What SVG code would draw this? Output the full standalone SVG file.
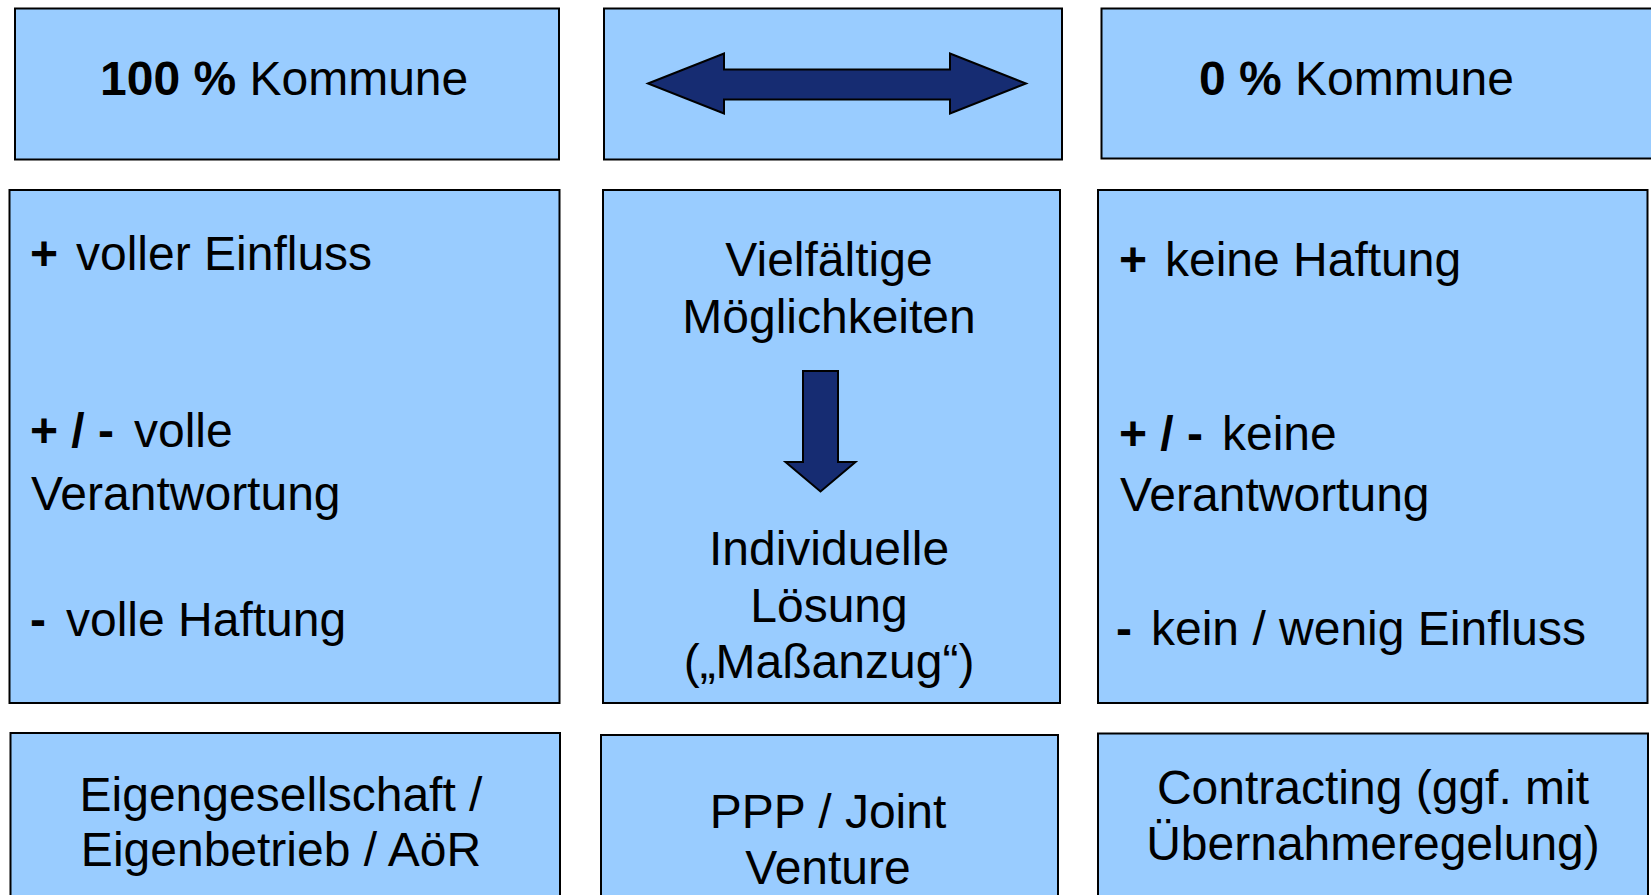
<svg xmlns="http://www.w3.org/2000/svg" width="1651" height="895" viewBox="0 0 1651 895">
  <style>
    .box { fill: #99CCFF; stroke: #000; stroke-width: 2; }
    .t { font-family: "Liberation Sans", Arial, sans-serif; font-size: 48px; fill: #000; }
    .b { font-weight: bold; }
    .c { text-anchor: middle; }
    .arrow { fill: #162C72; stroke: #000; stroke-width: 2; stroke-linejoin: miter; }
  </style>
  <rect width="1651" height="895" fill="#fff"/>

  <g id="node-100-kommune">
    <rect class="box" x="15" y="8.5" width="544" height="151"/>
    <text class="t" x="100" y="95"><tspan class="b">100 %</tspan> Kommune</text>
  </g>

  <g id="node-double-arrow">
    <rect class="box" x="604" y="8.5" width="458" height="151"/>
  </g>

  <g id="node-0-kommune">
    <rect class="box" x="1101.5" y="8.5" width="600" height="150"/>
    <text class="t" x="1199" y="95"><tspan class="b">0 %</tspan> Kommune</text>
  </g>

  <g id="node-left-pros-cons">
    <rect class="box" x="9.5" y="190" width="550" height="513"/>
    <text class="t" y="270"><tspan class="b" x="30">+</tspan><tspan x="76">voller Einfluss</tspan></text>
    <text class="t" y="447"><tspan class="b" x="30">+ / -</tspan><tspan x="134">volle</tspan></text>
    <text class="t" x="31" y="510">Verantwortung</text>
    <text class="t" y="636"><tspan class="b" x="30">-</tspan><tspan x="66">volle Haftung</tspan></text>
  </g>

  <g id="node-center-options">
    <rect class="box" x="603" y="190" width="457" height="513"/>
    <text class="t c" x="829" y="276">Vielfältige</text>
    <text class="t c" x="829" y="332.5">Möglichkeiten</text>
    <text class="t c" x="829" y="565">Individuelle</text>
    <text class="t c" x="829" y="621.5">Lösung</text>
    <text class="t c" x="829" y="677.5">(„Maßanzug“)</text>
  </g>

  <g id="node-right-pros-cons">
    <rect class="box" x="1098" y="190" width="549.5" height="513"/>
    <text class="t" y="276"><tspan class="b" x="1119">+</tspan><tspan x="1165">keine Haftung</tspan></text>
    <text class="t" y="450"><tspan class="b" x="1119">+ / -</tspan><tspan x="1222">keine</tspan></text>
    <text class="t" x="1120" y="510.5">Verantwortung</text>
    <text class="t" y="645"><tspan class="b" x="1116">-</tspan><tspan x="1151">kein / wenig Einfluss</tspan></text>
  </g>

  <g id="node-eigengesellschaft">
    <rect class="box" x="10.5" y="733" width="549.5" height="200"/>
    <text class="t c" x="281" y="811">Eigengesellschaft /</text>
    <text class="t c" x="281" y="866">Eigenbetrieb / AöR</text>
  </g>

  <g id="node-ppp">
    <rect class="box" x="601" y="735" width="457" height="200"/>
    <text class="t c" x="828" y="828">PPP / Joint</text>
    <text class="t c" x="828" y="884">Venture</text>
  </g>

  <g id="node-contracting">
    <rect class="box" x="1098" y="733.5" width="550" height="200"/>
    <text class="t c" x="1373" y="803.5">Contracting (ggf. mit</text>
    <text class="t c" x="1373" y="859.5">Übernahmeregelung)</text>
  </g>

  <g id="connectors">
    <polygon class="arrow" points="648,83.5 724,53.5 724,69.5 950,69.5 950,53.5 1026,83.5 950,113.5 950,99.5 724,99.5 724,113.5"/>
    <polygon class="arrow" points="803,371 838,371 838,462 855.5,462 820.5,491.5 785.5,462 803,462"/>
  </g>
</svg>
